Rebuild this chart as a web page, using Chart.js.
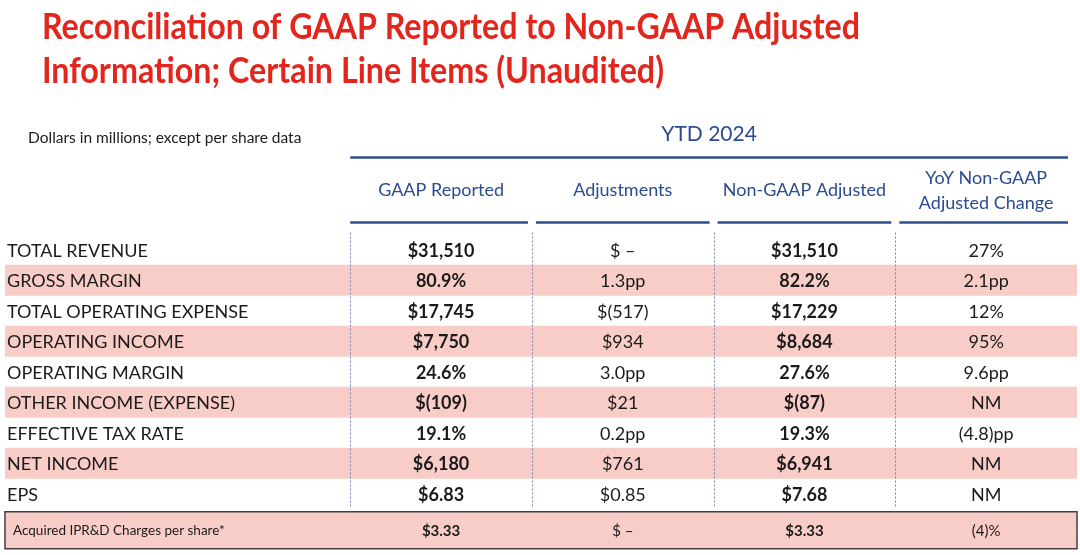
<!DOCTYPE html>
<html>
<head>
<meta charset="utf-8">
<script src="https://cdn.jsdelivr.net/npm/chart.js@4"></script>
<style>
    html, body { margin: 0; padding: 0; background: #ffffff; }
    #wrap { position: relative; width: 1080px; height: 555px; }
</style>
</head>
<body>
<div id="wrap"><canvas id="reconTable"></canvas></div>
<script>
// 表格数据
const titleLines = ['Reconciliation of GAAP Reported to Non-GAAP Adjusted', 'Information; Certain Line Items (Unaudited)'];
const unitNote = 'Dollars in millions; except per share data';
const periodLabel = 'YTD 2024';
const columnHeaders = [['GAAP Reported'], ['Adjustments'], ['Non-GAAP Adjusted'], ['YoY Non-GAAP', 'Adjusted Change']];
const boldColumns = [true, false, true, false];

const rowLabels = ['TOTAL REVENUE', 'GROSS MARGIN', 'TOTAL OPERATING EXPENSE', 'OPERATING INCOME',
    'OPERATING MARGIN', 'OTHER INCOME (EXPENSE)', 'EFFECTIVE TAX RATE', 'NET INCOME', 'EPS'];
const gaapReported = ['$31,510', '80.9%', '$17,745', '$7,750', '24.6%', '$(109)', '19.1%', '$6,180', '$6.83'];
const adjustments = ['$ –', '1.3pp', '$(517)', '$934', '3.0pp', '$21', '0.2pp', '$761', '$0.85'];
const nonGaapAdjusted = ['$31,510', '82.2%', '$17,229', '$8,684', '27.6%', '$(87)', '19.3%', '$6,941', '$7.68'];
const yoyChange = ['27%', '2.1pp', '12%', '95%', '9.6pp', 'NM', '(4.8)pp', 'NM', 'NM'];
const shadedRows = [false, true, false, true, false, true, false, true, false];

const footerLabel = 'Acquired IPR&D Charges per share*';
const footerValues = ['$3.33', '$ –', '$3.33', '(4)%'];

// 颜色
const colors = {
    title: '#e3261d',
    blue: '#2b4c92',
    line: '#2d4e8d',
    stripe: '#f9cdc7',
    dash: '#7383b3',
    text: '#1b1b1b',
    border: '#3f3f3f'
};
const FONT = 'Lato, "Open Sans", sans-serif';

const columns = [gaapReported, adjustments, nonGaapAdjusted, yoyChange];
const X_MIN = -1.9;
const X_MAX = 4;

// 文字绘制（垂直居中于大写字母高度）
function drawText(ctx, text, x, cy, size, weight, color, align, maxWidth) {
    ctx.font = weight + ' ' + size + 'px ' + FONT;
    ctx.fillStyle = color;
    ctx.textAlign = align;
    ctx.textBaseline = 'alphabetic';
    const baseline = cy + size * 0.36;
    if (maxWidth) ctx.fillText(text, x, baseline, maxWidth);
    else ctx.fillText(text, x, baseline);
}

const tablePlugin = {
    id: 'tablePlugin',
    afterDatasetsDraw(chart) {
        const ctx = chart.ctx;
        const xs = chart.scales.x;
        const ys = chart.scales.y;
        const area = chart.chartArea;
        ctx.save();

        // 标题
        drawText(ctx, titleLines[0], 42, 26, 36, 'bold', colors.title, 'left', 818);
        drawText(ctx, titleLines[1], 42, 70, 36, 'bold', colors.title, 'left', 622);

        drawText(ctx, unitNote, 28, 137, 15.5, 'normal', colors.text, 'left');

        // 期间标题
        const colLeft = xs.getPixelForValue(0);
        const colRight = xs.getPixelForValue(4) - 9;
        drawText(ctx, periodLabel, (colLeft + colRight) / 2, 133, 21, 'normal', colors.blue, 'center');
        ctx.strokeStyle = colors.line;
        ctx.lineWidth = 2.5;
        ctx.beginPath();
        ctx.moveTo(colLeft, 157.5);
        ctx.lineTo(colRight, 157.5);
        ctx.stroke();

        // 列标题与下划线
        columnHeaders.forEach((lines, i) => {
            const cx = xs.getPixelForValue(i + 0.5);
            if (lines.length === 1) {
                drawText(ctx, lines[0], cx, 190, 18, 'normal', colors.blue, 'center');
            } else {
                drawText(ctx, lines[0], cx, 178, 18, 'normal', colors.blue, 'center');
                drawText(ctx, lines[1], cx, 203, 18, 'normal', colors.blue, 'center');
            }
            const x0 = xs.getPixelForValue(i) + (i > 0 ? 4 : 0);
            const x1 = i === columns.length - 1 ? colRight : xs.getPixelForValue(i + 1) - 4;
            ctx.beginPath();
            ctx.moveTo(x0, 222.5);
            ctx.lineTo(x1, 222.5);
            ctx.stroke();
        });

        // 虚线分隔
        ctx.strokeStyle = colors.dash;
        ctx.lineWidth = 1;
        ctx.setLineDash([2, 2]);
        for (let i = 0; i < columns.length; i++) {
            const x = Math.round(xs.getPixelForValue(i)) + 0.5;
            ctx.beginPath();
            ctx.moveTo(x, area.top - 2);
            ctx.lineTo(x, area.bottom - 2);
            ctx.stroke();
        }
        ctx.setLineDash([]);

        // 行文字
        rowLabels.forEach((label, r) => {
            const cy = ys.getPixelForValue(r) + 0.5;
            drawText(ctx, label, 7, cy, 18, 'normal', colors.text, 'left');
            columns.forEach((col, c) => {
                drawText(ctx, col[r], xs.getPixelForValue(c + 0.5), cy, 18,
                    boldColumns[c] ? 'bold' : 'normal', colors.text, 'center');
            });
        });

        // 底部 IPR&D 行
        const lastY = ys.getPixelForValue(rowLabels.length - 1);
        const boxTop = lastY + 18;
        const boxH = 37;
        ctx.fillStyle = colors.stripe;
        ctx.fillRect(area.left, boxTop, area.right - area.left, boxH);
        ctx.strokeStyle = colors.border;
        ctx.lineWidth = 1.5;
        ctx.strokeRect(area.left, boxTop, area.right - area.left, boxH);
        const fy = boxTop + boxH / 2;
        drawText(ctx, footerLabel, 13, fy, 13.5, 'normal', colors.text, 'left');
        footerValues.forEach((v, c) => {
            drawText(ctx, v, xs.getPixelForValue(c + 0.5), fy, 15,
                boldColumns[c] ? 'bold' : 'normal', colors.text, 'center');
        });

        ctx.restore();
    }
};

new Chart(document.getElementById('reconTable'), {
    type: 'bar',
    data: {
        labels: rowLabels,
        datasets: [{
            label: 'stripes',
            data: shadedRows.map(s => (s ? [X_MIN, X_MAX] : null)),
            backgroundColor: colors.stripe,
            borderWidth: 0,
            barPercentage: 1,
            categoryPercentage: 1
        }]
    },
    options: {
        indexAxis: 'y',
        responsive: true,
        maintainAspectRatio: false,
        animation: false,
        layout: {
            padding: { left: 5, right: 3, top: 234.5, bottom: 46 }
        },
        plugins: {
            legend: { display: false },
            tooltip: { enabled: false },
            title: { display: false }
        },
        scales: {
            x: { type: 'linear', min: X_MIN, max: X_MAX, display: false },
            y: { type: 'category', display: false, offset: true }
        }
    },
    plugins: [tablePlugin]
});
</script>
</body>
</html>
